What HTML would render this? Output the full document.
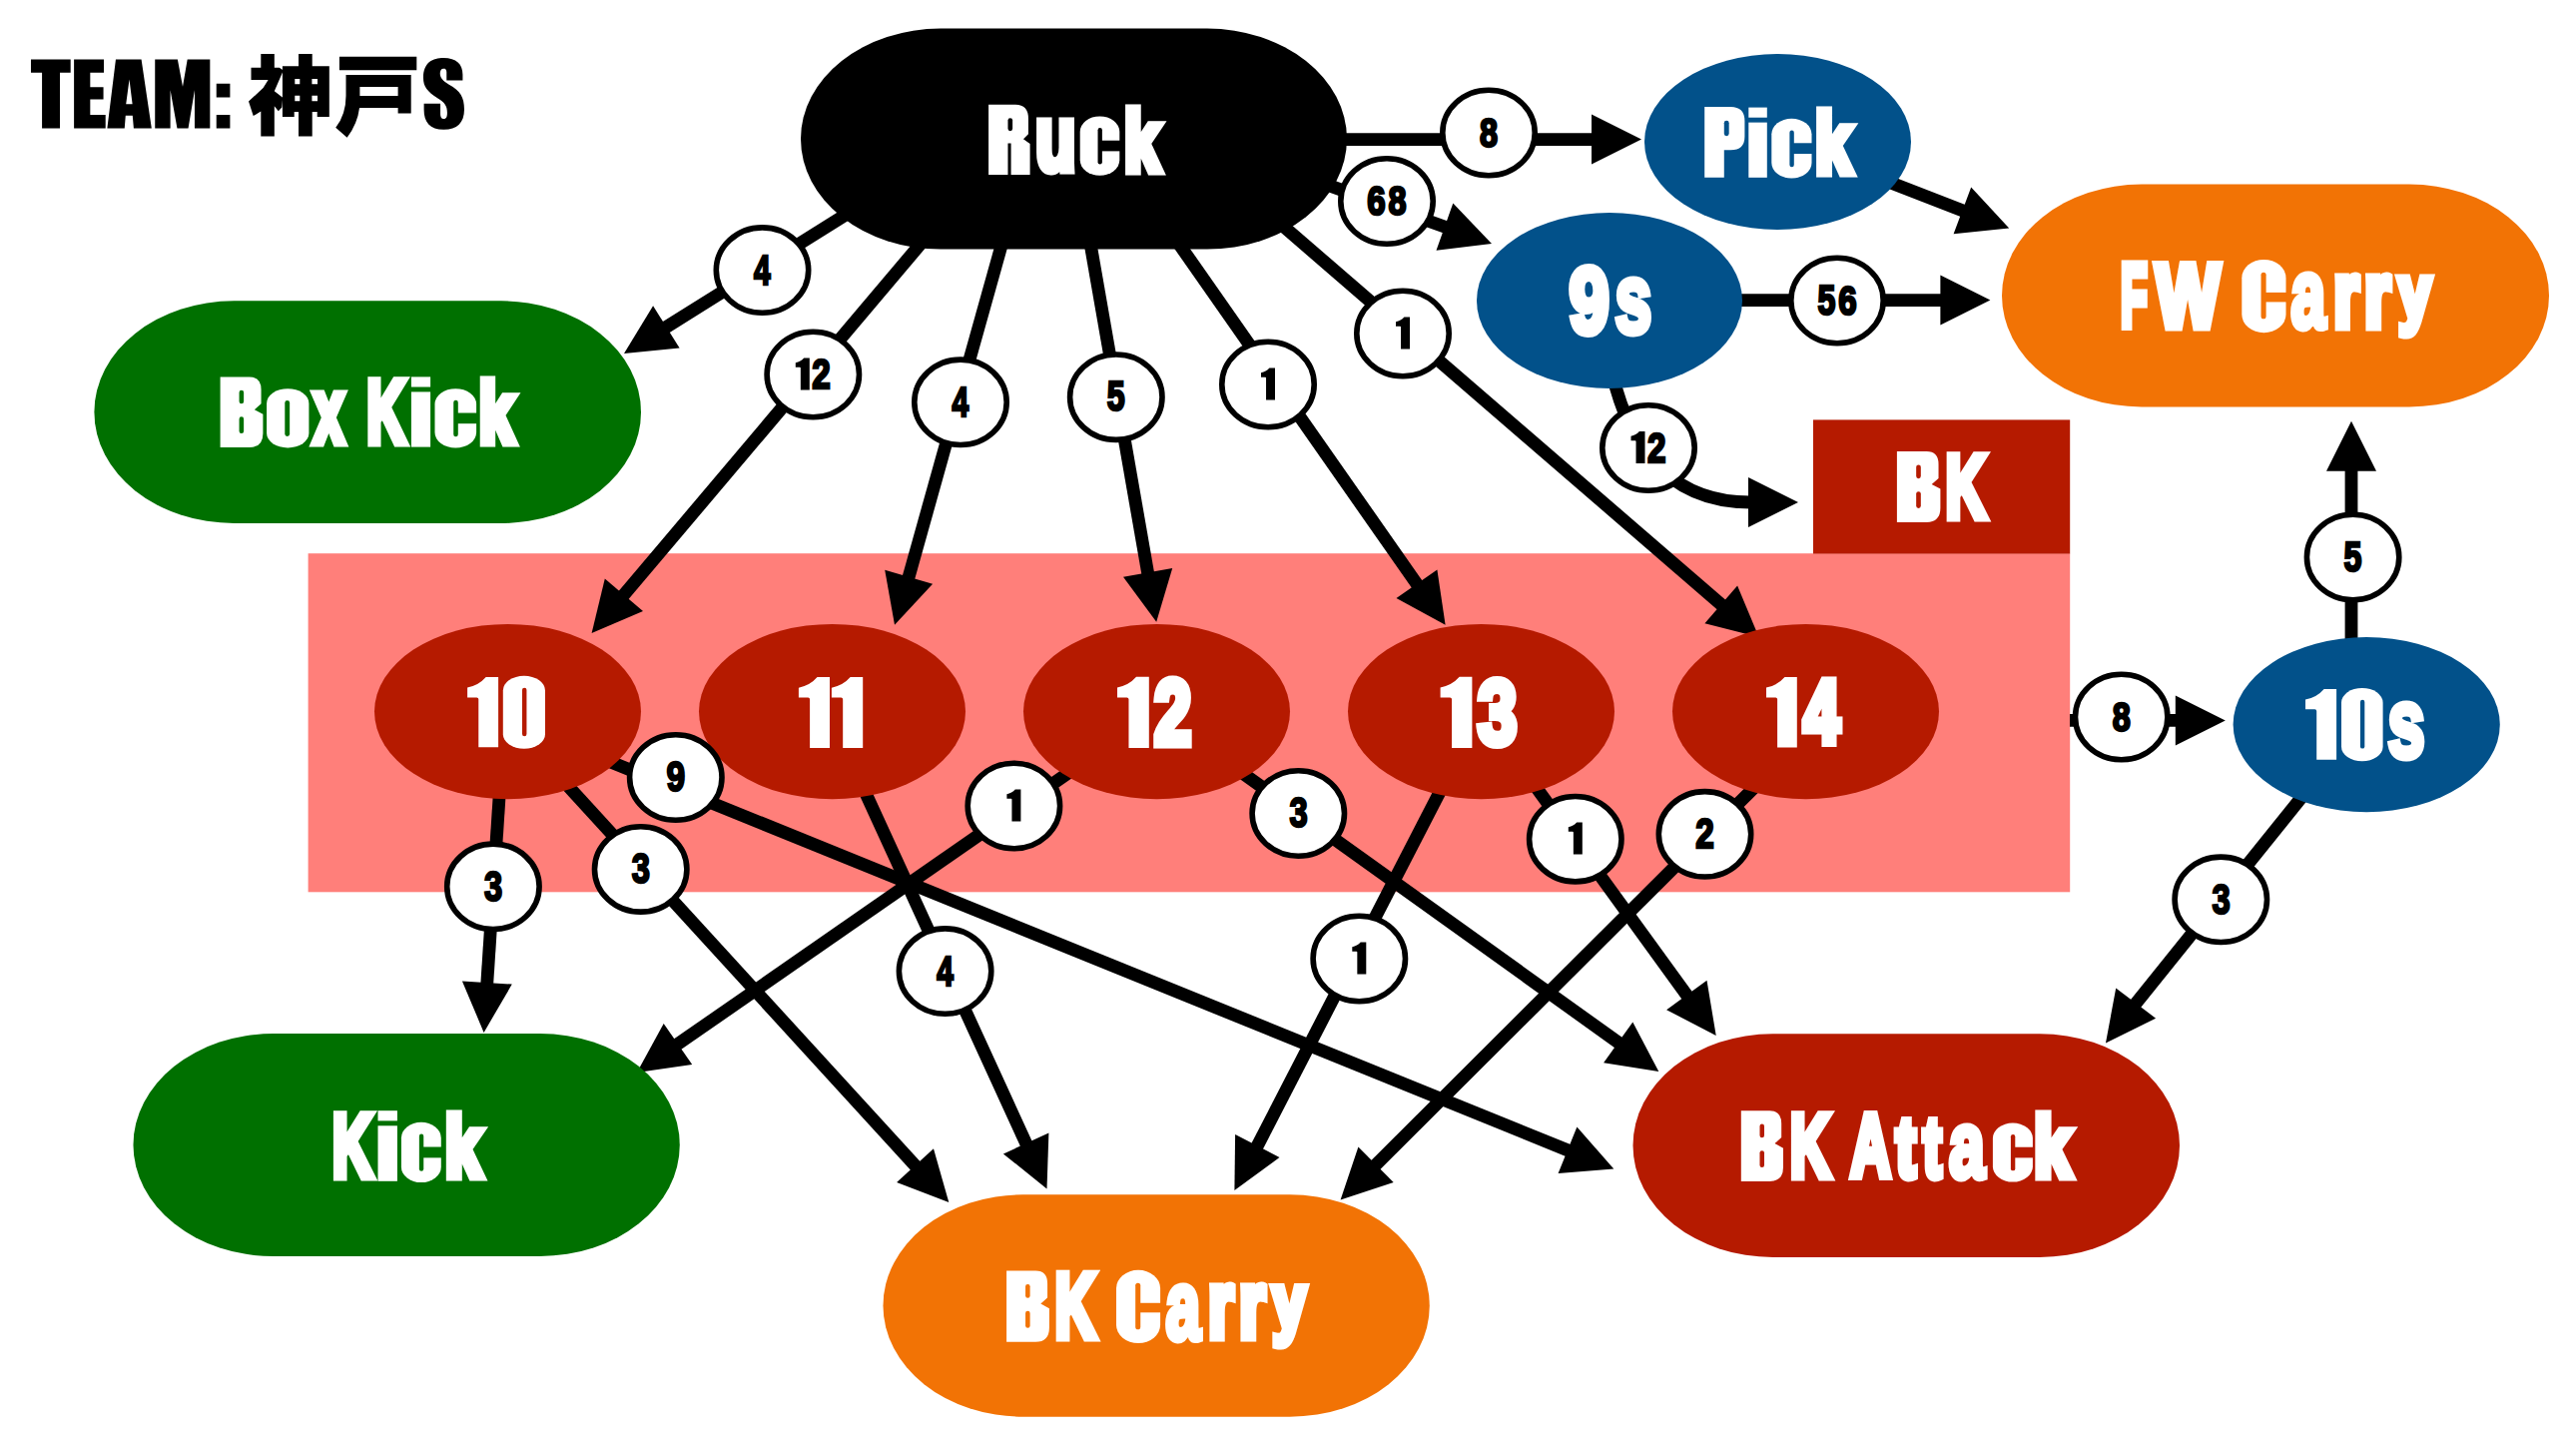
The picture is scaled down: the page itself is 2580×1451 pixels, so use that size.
<!DOCTYPE html><html><head><meta charset="utf-8"><style>html,body{margin:0;padding:0;background:#fff;overflow:hidden}svg{display:block}</style></head><body>
<svg xmlns="http://www.w3.org/2000/svg" width="2580" height="1451" viewBox="0 0 2580 1451">
<rect width="2580" height="1451" fill="#fff"/>
<rect x="308.6" y="554.2" width="1764.6" height="339.1" fill="#ff7f7a"/>
<rect x="1816" y="420.4" width="257.2" height="134.1" fill="#b51a00"/>
<g stroke="#000" stroke-width="12.8" stroke-linecap="butt"><line x1="1300.0" y1="139.6" x2="1596.0" y2="139.6"/><line x1="1300.0" y1="174.6" x2="1448.8" y2="227.8"/><line x1="879.0" y1="195.0" x2="665.7" y2="328.5"/><line x1="953.8" y1="206.6" x2="623.6" y2="597.2"/><line x1="1010.0" y1="220.8" x2="909.6" y2="579.7"/><line x1="1089.4" y1="228.7" x2="1149.9" y2="575.4"/><line x1="1172.6" y1="232.6" x2="1420.1" y2="586.4"/><line x1="1269.5" y1="212.9" x2="1725.3" y2="606.6"/><line x1="1850.0" y1="166.0" x2="1967.3" y2="211.5"/><line x1="1700.0" y1="300.6" x2="1945.4" y2="300.6"/><line x1="2073.0" y1="721.4" x2="2180.8" y2="721.4"/><line x1="2355.0" y1="690.0" x2="2355.0" y2="469.7"/><line x1="2336.0" y1="760.0" x2="2138.0" y2="1006.2"/><line x1="505.7" y1="712.0" x2="487.7" y2="986.0"/><line x1="507.5" y1="720.0" x2="917.9" y2="1168.6"/><line x1="508.0" y1="721.0" x2="1571.8" y2="1152.5"/><line x1="829.3" y1="712.0" x2="1028.5" y2="1146.8"/><line x1="1158.5" y1="712.6" x2="677.3" y2="1046.6"/><line x1="1158.5" y1="712.6" x2="1622.3" y2="1045.0"/><line x1="1483.5" y1="712.6" x2="1258.4" y2="1149.3"/><line x1="1483.5" y1="712.6" x2="1690.5" y2="998.1"/><line x1="1803.7" y1="742.1" x2="1376.6" y2="1167.7"/></g>
<path d="M1615,375 C1628,430 1660,503 1753,503" fill="none" stroke="#000" stroke-width="12.8"/>
<g fill="#000"><polygon points="1644.0,139.6 1594.0,164.6 1594.0,114.6"/><polygon points="1494.0,244.0 1438.5,250.7 1455.3,203.6"/><polygon points="625.0,354.0 654.1,306.3 680.6,348.6"/><polygon points="592.6,633.9 605.8,579.6 644.0,611.9"/><polygon points="896.0,625.7 886.2,570.7 934.1,584.8"/><polygon points="1158.2,622.7 1125.0,577.7 1174.2,569.1"/><polygon points="1447.6,625.7 1398.5,599.1 1439.4,570.4"/><polygon points="1761.6,638.0 1707.4,624.2 1740.1,586.4"/><polygon points="2012.2,228.4 1956.6,234.2 1974.2,187.4"/><polygon points="1993.4,300.6 1943.4,325.6 1943.4,275.6"/><polygon points="2228.8,721.4 2178.8,746.4 2178.8,696.4"/><polygon points="2355.0,421.7 2380.0,471.7 2330.0,471.7"/><polygon points="2109.0,1044.5 2119.2,989.5 2159.1,1019.7"/><polygon points="484.6,1033.9 462.9,982.4 512.8,985.6"/><polygon points="950.3,1204.0 898.1,1184.0 935.0,1150.2"/><polygon points="1616.3,1170.5 1560.6,1174.9 1579.4,1128.5"/><polygon points="1048.5,1190.4 1004.9,1155.4 1050.4,1134.5"/><polygon points="637.9,1074.0 664.7,1025.0 693.2,1066.0"/><polygon points="1661.3,1073.0 1606.1,1064.2 1635.3,1023.6"/><polygon points="1236.4,1192.0 1237.1,1136.1 1281.5,1159.0"/><polygon points="1718.7,1037.0 1669.1,1011.2 1709.5,981.8"/><polygon points="1342.6,1201.6 1360.4,1148.6 1395.7,1184.0"/><polygon points="1801,503 1751,478 1751,528"/></g>
<rect x="802" y="28.6" width="547.0" height="221.0" rx="140" ry="110.5" fill="#000"/>
<ellipse cx="1780.5" cy="142" rx="133.5" ry="88" fill="#02518a"/>
<ellipse cx="1612" cy="301" rx="133" ry="88" fill="#02518a"/>
<rect x="2005" y="184.5" width="548.0" height="223.0" rx="140" ry="111.5" fill="#f27305"/>
<rect x="94.4" y="301.3" width="547.6" height="222.7" rx="140" ry="111.3" fill="#007000"/>
<ellipse cx="508.5" cy="712.6" rx="133.5" ry="87.7" fill="#b51a00"/>
<ellipse cx="833.5" cy="712.6" rx="133.5" ry="87.7" fill="#b51a00"/>
<ellipse cx="1158.5" cy="712.6" rx="133.5" ry="87.7" fill="#b51a00"/>
<ellipse cx="1483.5" cy="712.6" rx="133.5" ry="87.7" fill="#b51a00"/>
<ellipse cx="1808.5" cy="712.6" rx="133.5" ry="87.7" fill="#b51a00"/>
<ellipse cx="2370.2" cy="725.6" rx="133.6" ry="87.6" fill="#02518a"/>
<rect x="133.5" y="1035.1" width="547.3" height="222.9" rx="140" ry="111.5" fill="#007000"/>
<rect x="884.5" y="1196.3" width="547.3" height="222.4" rx="140" ry="111.2" fill="#f27305"/>
<rect x="1635.5" y="1035.3" width="547.5" height="223.6" rx="140" ry="111.8" fill="#b51a00"/>
<ellipse cx="1491" cy="133" rx="46.2" ry="42.7" fill="#fff" stroke="#000" stroke-width="5.6"/><text x="1481.97" y="146.69" font-size="41.52" font-family="Liberation Sans, sans-serif" font-weight="700" fill="#000" stroke="#000" stroke-width="2.6" stroke-linejoin="miter" stroke-miterlimit="3" textLength="18.03" lengthAdjust="spacingAndGlyphs">8</text><ellipse cx="1389" cy="201.5" rx="46.2" ry="42.7" fill="#fff" stroke="#000" stroke-width="5.6"/><text x="1369.29" y="215.19" font-size="41.52" font-family="Liberation Sans, sans-serif" font-weight="700" fill="#000" stroke="#000" stroke-width="2.6" stroke-linejoin="miter" stroke-miterlimit="3" textLength="18.41" lengthAdjust="spacingAndGlyphs">6</text><text x="1390.47" y="215.19" font-size="41.52" font-family="Liberation Sans, sans-serif" font-weight="700" fill="#000" stroke="#000" stroke-width="2.6" stroke-linejoin="miter" stroke-miterlimit="3" textLength="18.03" lengthAdjust="spacingAndGlyphs">8</text><ellipse cx="763.5" cy="270.6" rx="46.2" ry="42.7" fill="#fff" stroke="#000" stroke-width="5.6"/><text x="755.05" y="284.70" font-size="42.73" font-family="Liberation Sans, sans-serif" font-weight="700" fill="#000" stroke="#000" stroke-width="2.6" stroke-linejoin="miter" stroke-miterlimit="3" textLength="16.61" lengthAdjust="spacingAndGlyphs">4</text><ellipse cx="814.3" cy="375" rx="46.2" ry="42.7" fill="#fff" stroke="#000" stroke-width="5.6"/><path d="M796.80,363.17 Q801.91,362.24 805.19,358.40 L810.80,358.40 L810.80,390.40 L801.84,390.40 L801.84,368.48 Q801.84,367.65 801.01,367.65 L796.80,367.65 Z" fill="#000"/><text x="813.35" y="389.10" font-size="42.11" font-family="Liberation Sans, sans-serif" font-weight="700" fill="#000" stroke="#000" stroke-width="2.6" stroke-linejoin="miter" stroke-miterlimit="3" textLength="18.48" lengthAdjust="spacingAndGlyphs">2</text><ellipse cx="962" cy="402.8" rx="46.2" ry="42.7" fill="#fff" stroke="#000" stroke-width="5.6"/><text x="953.55" y="416.90" font-size="42.73" font-family="Liberation Sans, sans-serif" font-weight="700" fill="#000" stroke="#000" stroke-width="2.6" stroke-linejoin="miter" stroke-miterlimit="3" textLength="16.61" lengthAdjust="spacingAndGlyphs">4</text><ellipse cx="1117.8" cy="397.7" rx="46.2" ry="42.7" fill="#fff" stroke="#000" stroke-width="5.6"/><text x="1108.81" y="411.39" font-size="42.14" font-family="Liberation Sans, sans-serif" font-weight="700" fill="#000" stroke="#000" stroke-width="2.6" stroke-linejoin="miter" stroke-miterlimit="3" textLength="17.88" lengthAdjust="spacingAndGlyphs">5</text><ellipse cx="1270" cy="385" rx="46.2" ry="42.7" fill="#fff" stroke="#000" stroke-width="5.6"/><path d="M1263.00,373.17 Q1268.11,372.24 1271.39,368.40 L1277.00,368.40 L1277.00,400.40 L1268.04,400.40 L1268.04,378.48 Q1268.04,377.65 1267.21,377.65 L1263.00,377.65 Z" fill="#000"/><ellipse cx="1405" cy="334" rx="46.2" ry="42.7" fill="#fff" stroke="#000" stroke-width="5.6"/><path d="M1398.00,322.17 Q1403.11,321.24 1406.39,317.40 L1412.00,317.40 L1412.00,349.40 L1403.04,349.40 L1403.04,327.48 Q1403.04,326.65 1402.21,326.65 L1398.00,326.65 Z" fill="#000"/><ellipse cx="1840" cy="301" rx="46.2" ry="42.7" fill="#fff" stroke="#000" stroke-width="5.6"/><text x="1820.51" y="314.69" font-size="42.14" font-family="Liberation Sans, sans-serif" font-weight="700" fill="#000" stroke="#000" stroke-width="2.6" stroke-linejoin="miter" stroke-miterlimit="3" textLength="17.88" lengthAdjust="spacingAndGlyphs">5</text><text x="1841.29" y="314.69" font-size="41.52" font-family="Liberation Sans, sans-serif" font-weight="700" fill="#000" stroke="#000" stroke-width="2.6" stroke-linejoin="miter" stroke-miterlimit="3" textLength="18.41" lengthAdjust="spacingAndGlyphs">6</text><ellipse cx="2124.7" cy="718" rx="46.2" ry="42.7" fill="#fff" stroke="#000" stroke-width="5.6"/><text x="2115.67" y="731.69" font-size="41.52" font-family="Liberation Sans, sans-serif" font-weight="700" fill="#000" stroke="#000" stroke-width="2.6" stroke-linejoin="miter" stroke-miterlimit="3" textLength="18.03" lengthAdjust="spacingAndGlyphs">8</text><ellipse cx="2356.6" cy="558" rx="46.2" ry="42.7" fill="#fff" stroke="#000" stroke-width="5.6"/><text x="2347.61" y="571.69" font-size="42.14" font-family="Liberation Sans, sans-serif" font-weight="700" fill="#000" stroke="#000" stroke-width="2.6" stroke-linejoin="miter" stroke-miterlimit="3" textLength="17.88" lengthAdjust="spacingAndGlyphs">5</text><ellipse cx="2224.3" cy="900.8" rx="46.2" ry="42.7" fill="#fff" stroke="#000" stroke-width="5.6"/><text x="2215.41" y="914.57" font-size="41.84" font-family="Liberation Sans, sans-serif" font-weight="700" fill="#000" stroke="#000" stroke-width="2.314" stroke-linejoin="miter" stroke-miterlimit="3" textLength="18.22" lengthAdjust="spacingAndGlyphs">3</text><ellipse cx="493.9" cy="887.8" rx="46.2" ry="42.7" fill="#fff" stroke="#000" stroke-width="5.6"/><text x="485.01" y="901.57" font-size="41.84" font-family="Liberation Sans, sans-serif" font-weight="700" fill="#000" stroke="#000" stroke-width="2.314" stroke-linejoin="miter" stroke-miterlimit="3" textLength="18.22" lengthAdjust="spacingAndGlyphs">3</text><ellipse cx="641.7" cy="870.4" rx="46.2" ry="42.7" fill="#fff" stroke="#000" stroke-width="5.6"/><text x="632.81" y="884.17" font-size="41.84" font-family="Liberation Sans, sans-serif" font-weight="700" fill="#000" stroke="#000" stroke-width="2.314" stroke-linejoin="miter" stroke-miterlimit="3" textLength="18.22" lengthAdjust="spacingAndGlyphs">3</text><ellipse cx="676.8" cy="778.5" rx="46.2" ry="42.7" fill="#fff" stroke="#000" stroke-width="5.6"/><text x="667.49" y="792.33" font-size="41.93" font-family="Liberation Sans, sans-serif" font-weight="700" fill="#000" stroke="#000" stroke-width="2.314" stroke-linejoin="miter" stroke-miterlimit="3" textLength="18.70" lengthAdjust="spacingAndGlyphs">9</text><ellipse cx="946.6" cy="972.6" rx="46.2" ry="42.7" fill="#fff" stroke="#000" stroke-width="5.6"/><text x="938.15" y="986.70" font-size="42.73" font-family="Liberation Sans, sans-serif" font-weight="700" fill="#000" stroke="#000" stroke-width="2.6" stroke-linejoin="miter" stroke-miterlimit="3" textLength="16.61" lengthAdjust="spacingAndGlyphs">4</text><ellipse cx="1015.4" cy="807" rx="46.2" ry="42.7" fill="#fff" stroke="#000" stroke-width="5.6"/><path d="M1008.40,795.17 Q1013.51,794.24 1016.79,790.40 L1022.40,790.40 L1022.40,822.40 L1013.44,822.40 L1013.44,800.48 Q1013.44,799.65 1012.61,799.65 L1008.40,799.65 Z" fill="#000"/><ellipse cx="1300.3" cy="814.5" rx="46.2" ry="42.7" fill="#fff" stroke="#000" stroke-width="5.6"/><text x="1291.41" y="828.27" font-size="41.84" font-family="Liberation Sans, sans-serif" font-weight="700" fill="#000" stroke="#000" stroke-width="2.314" stroke-linejoin="miter" stroke-miterlimit="3" textLength="18.22" lengthAdjust="spacingAndGlyphs">3</text><ellipse cx="1361.3" cy="960" rx="46.2" ry="42.7" fill="#fff" stroke="#000" stroke-width="5.6"/><path d="M1354.30,948.17 Q1359.41,947.24 1362.69,943.40 L1368.30,943.40 L1368.30,975.40 L1359.34,975.40 L1359.34,953.48 Q1359.34,952.65 1358.51,952.65 L1354.30,952.65 Z" fill="#000"/><ellipse cx="1577.8" cy="840.2" rx="46.2" ry="42.7" fill="#fff" stroke="#000" stroke-width="5.6"/><path d="M1570.80,828.37 Q1575.91,827.44 1579.19,823.60 L1584.80,823.60 L1584.80,855.60 L1575.84,855.60 L1575.84,833.68 Q1575.84,832.85 1575.01,832.85 L1570.80,832.85 Z" fill="#000"/><ellipse cx="1707.5" cy="835.3" rx="46.2" ry="42.7" fill="#fff" stroke="#000" stroke-width="5.6"/><text x="1698.35" y="849.40" font-size="42.11" font-family="Liberation Sans, sans-serif" font-weight="700" fill="#000" stroke="#000" stroke-width="2.6" stroke-linejoin="miter" stroke-miterlimit="3" textLength="18.48" lengthAdjust="spacingAndGlyphs">2</text><ellipse cx="1651" cy="448.5" rx="46.2" ry="42.7" fill="#fff" stroke="#000" stroke-width="5.6"/><path d="M1633.50,436.67 Q1638.61,435.74 1641.89,431.90 L1647.50,431.90 L1647.50,463.90 L1638.54,463.90 L1638.54,441.98 Q1638.54,441.15 1637.71,441.15 L1633.50,441.15 Z" fill="#000"/><text x="1650.05" y="462.60" font-size="42.11" font-family="Liberation Sans, sans-serif" font-weight="700" fill="#000" stroke="#000" stroke-width="2.6" stroke-linejoin="miter" stroke-miterlimit="3" textLength="18.48" lengthAdjust="spacingAndGlyphs">2</text>
<g><path d="M990.10,104.70 L1017.07,104.70 Q1029.94,104.70 1029.94,118.76 L1029.94,134.23 L1024.96,139.15 L1031.60,144.07 L1031.60,175.00 L1012.59,175.00 L1012.59,143.58 L1009.48,143.58 L1009.48,175.00 L990.10,175.00 Z" fill="#fff"/><rect x="1009.48" y="118.27" width="4.65" height="12.86" rx="2.32" ry="2.32" fill="#000"/><text x="1037.13" y="170.31" font-size="91.44" font-family="Liberation Sans, sans-serif" font-weight="700" fill="#fff" stroke="#fff" stroke-width="9.0" stroke-linejoin="miter" stroke-miterlimit="3" textLength="40.10" lengthAdjust="spacingAndGlyphs">u</text><rect x="1081.70" y="116.40" width="39.60" height="59.30" rx="19.80" ry="15.42" fill="#fff"/><rect x="1099.52" y="127.96" width="4.36" height="36.47" rx="2.18" ry="2.18" fill="#000"/><rect x="1101.70" y="140.71" width="20.60" height="10.67" fill="#000"/><text x="1126.02" y="170.50" font-size="84.60" font-family="Liberation Sans, sans-serif" font-weight="700" fill="#fff" stroke="#fff" stroke-width="9.0" stroke-linejoin="miter" stroke-miterlimit="3" textLength="35.72" lengthAdjust="spacingAndGlyphs">k</text></g>
<g><path d="M1707.20,106.90 L1733.33,106.90 Q1747.40,106.90 1747.40,121.08 L1747.40,136.68 Q1747.40,150.22 1733.33,150.22 L1726.78,150.22 L1726.78,177.80 L1707.20,177.80 Z" fill="#fff"/><rect x="1726.78" y="120.87" width="4.90" height="15.39" rx="2.45" ry="2.45" fill="#02518a"/><rect x="1751.30" y="107.60" width="18.50" height="10.11" fill="#fff"/><rect x="1751.30" y="122.62" width="18.50" height="55.18" fill="#fff"/><rect x="1774.30" y="118.80" width="40.20" height="59.70" rx="20.10" ry="15.52" fill="#fff"/><rect x="1792.39" y="130.44" width="4.42" height="36.72" rx="2.21" ry="2.21" fill="#02518a"/><rect x="1794.60" y="143.28" width="20.90" height="10.75" fill="#02518a"/><text x="1817.93" y="173.30" font-size="85.01" font-family="Liberation Sans, sans-serif" font-weight="700" fill="#fff" stroke="#fff" stroke-width="9.0" stroke-linejoin="miter" stroke-miterlimit="3" textLength="36.41" lengthAdjust="spacingAndGlyphs">k</text></g>
<g><text x="1571.73" y="332.69" font-size="92.64" font-family="Liberation Sans, sans-serif" font-weight="700" fill="#fff" stroke="#fff" stroke-width="8.01" stroke-linejoin="miter" stroke-miterlimit="3" textLength="39.72" lengthAdjust="spacingAndGlyphs">9</text><text x="1617.38" y="333.13" font-size="98.26" font-family="Liberation Sans, sans-serif" font-weight="700" fill="#fff" stroke="#fff" stroke-width="7.0200000000000005" stroke-linejoin="miter" stroke-miterlimit="3" textLength="36.82" lengthAdjust="spacingAndGlyphs">s</text></g>
<g><text x="2124.09" y="327.10" font-size="89.25" font-family="Liberation Sans, sans-serif" font-weight="700" fill="#fff" stroke="#fff" stroke-width="9.0" stroke-linejoin="miter" stroke-miterlimit="3" textLength="26.61" lengthAdjust="spacingAndGlyphs">F</text><text x="2159.33" y="327.10" font-size="89.25" font-family="Liberation Sans, sans-serif" font-weight="700" fill="#fff" stroke="#fff" stroke-width="9.0" stroke-linejoin="miter" stroke-miterlimit="3" textLength="63.73" lengthAdjust="spacingAndGlyphs">W</text><rect x="2245.30" y="259.90" width="44.20" height="73.30" rx="22.10" ry="18.33" fill="#fff"/><rect x="2264.53" y="272.73" width="5.08" height="46.55" rx="2.54" ry="2.54" fill="#f27305"/><rect x="2267.07" y="292.88" width="23.43" height="9.53" fill="#f27305"/><text x="2294.48" y="328.44" font-size="97.62" font-family="Liberation Sans, sans-serif" font-weight="700" fill="#fff" stroke="#fff" stroke-width="7.0200000000000005" stroke-linejoin="miter" stroke-miterlimit="3" textLength="34.71" lengthAdjust="spacingAndGlyphs">a</text><text x="2337.20" y="327.10" font-size="93.21" font-family="Liberation Sans, sans-serif" font-weight="700" fill="#fff" stroke="#fff" stroke-width="9.0" stroke-linejoin="miter" stroke-miterlimit="3" textLength="25.39" lengthAdjust="spacingAndGlyphs">r</text><text x="2368.07" y="327.10" font-size="93.21" font-family="Liberation Sans, sans-serif" font-weight="700" fill="#fff" stroke="#fff" stroke-width="9.0" stroke-linejoin="miter" stroke-miterlimit="3" textLength="26.15" lengthAdjust="spacingAndGlyphs">r</text><text x="2402.45" y="318.72" font-size="76.51" font-family="Liberation Sans, sans-serif" font-weight="700" fill="#fff" stroke="#fff" stroke-width="9.0" stroke-linejoin="miter" stroke-miterlimit="3" textLength="31.96" lengthAdjust="spacingAndGlyphs">y</text></g>
<g><path d="M220.60,377.40 L249.70,377.40 Q261.56,377.40 261.56,390.11 L261.56,404.23 L254.84,410.23 L263.40,414.82 L263.40,433.88 Q263.40,448.00 249.70,448.00 L220.60,448.00 Z" fill="#fff"/><rect x="239.56" y="390.74" width="4.58" height="13.63" rx="2.29" ry="2.29" fill="#007000"/><rect x="239.56" y="417.36" width="4.58" height="16.73" rx="2.29" ry="2.29" fill="#007000"/><rect x="267.10" y="389.20" width="42.30" height="59.30" rx="21.15" ry="14.83" fill="#fff"/><rect x="285.29" y="401.06" width="4.86" height="35.94" rx="2.43" ry="2.43" fill="#007000"/><text x="314.13" y="443.10" font-size="91.04" font-family="Liberation Sans, sans-serif" font-weight="700" fill="#fff" stroke="#fff" stroke-width="9.0" stroke-linejoin="miter" stroke-miterlimit="3" textLength="30.27" lengthAdjust="spacingAndGlyphs">x</text><text x="367.43" y="443.10" font-size="88.96" font-family="Liberation Sans, sans-serif" font-weight="700" fill="#fff" stroke="#fff" stroke-width="9.0" stroke-linejoin="miter" stroke-miterlimit="3" textLength="38.57" lengthAdjust="spacingAndGlyphs">K</text><rect x="411.90" y="377.40" width="19.20" height="10.11" fill="#fff"/><rect x="411.90" y="392.42" width="19.20" height="55.18" fill="#fff"/><rect x="435.50" y="389.20" width="41.60" height="59.30" rx="20.80" ry="15.42" fill="#fff"/><rect x="454.22" y="400.76" width="4.58" height="36.47" rx="2.29" ry="2.29" fill="#007000"/><rect x="456.51" y="413.51" width="21.59" height="10.67" fill="#007000"/><text x="479.70" y="443.10" font-size="84.46" font-family="Liberation Sans, sans-serif" font-weight="700" fill="#fff" stroke="#fff" stroke-width="9.0" stroke-linejoin="miter" stroke-miterlimit="3" textLength="35.04" lengthAdjust="spacingAndGlyphs">k</text></g>
<g><path d="M1899.90,452.10 L1929.48,452.10 Q1941.53,452.10 1941.53,464.84 L1941.53,479.00 L1934.70,485.02 L1943.40,489.62 L1943.40,508.74 Q1943.40,522.90 1929.48,522.90 L1899.90,522.90 Z" fill="#fff"/><rect x="1919.17" y="465.48" width="4.65" height="13.66" rx="2.33" ry="2.33" fill="#b51a00"/><rect x="1919.17" y="492.17" width="4.65" height="16.78" rx="2.33" ry="2.33" fill="#b51a00"/><text x="1948.87" y="518.40" font-size="89.83" font-family="Liberation Sans, sans-serif" font-weight="700" fill="#fff" stroke="#fff" stroke-width="9.0" stroke-linejoin="miter" stroke-miterlimit="3" textLength="40.24" lengthAdjust="spacingAndGlyphs">K</text></g>
<g><path d="M468.10,688.56 Q479.41,686.52 486.69,678.10 L499.10,678.10 L499.10,748.30 L479.27,748.30 L479.27,700.21 Q479.27,698.39 477.43,698.39 L468.10,698.39 Z" fill="#fff"/><rect x="503.80" y="676.80" width="42.20" height="73.00" rx="21.10" ry="14.60" fill="#fff"/><rect x="523.00" y="688.63" width="4.43" height="48.54" rx="2.22" ry="2.22" fill="#b51a00"/></g>
<g><path d="M799.90,688.65 Q811.25,686.60 818.55,678.10 L831.00,678.10 L831.00,748.90 L811.10,748.90 L811.10,700.40 Q811.10,698.56 809.26,698.56 L799.90,698.56 Z" fill="#fff"/><path d="M832.90,688.65 Q844.32,686.60 851.67,678.10 L864.20,678.10 L864.20,748.90 L844.18,748.90 L844.18,700.40 Q844.18,698.56 842.32,698.56 L832.90,698.56 Z" fill="#fff"/></g>
<g><path d="M1119.00,688.42 Q1130.60,686.36 1138.07,677.80 L1150.80,677.80 L1150.80,749.10 L1130.46,749.10 L1130.46,700.26 Q1130.46,698.41 1128.57,698.41 L1119.00,698.41 Z" fill="#fff"/><text x="1156.21" y="744.60" font-size="89.94" font-family="Liberation Sans, sans-serif" font-weight="700" fill="#fff" stroke="#fff" stroke-width="9.0" stroke-linejoin="miter" stroke-miterlimit="3" textLength="36.73" lengthAdjust="spacingAndGlyphs">2</text></g>
<g><path d="M1442.60,688.42 Q1454.20,686.36 1461.67,677.80 L1474.40,677.80 L1474.40,749.10 L1454.06,749.10 L1454.06,700.26 Q1454.06,698.41 1452.17,698.41 L1442.60,698.41 Z" fill="#fff"/><text x="1480.08" y="744.77" font-size="90.90" font-family="Liberation Sans, sans-serif" font-weight="700" fill="#fff" stroke="#fff" stroke-width="8.01" stroke-linejoin="miter" stroke-miterlimit="3" textLength="39.37" lengthAdjust="spacingAndGlyphs">3</text></g>
<g><path d="M1769.00,688.60 Q1780.24,686.56 1787.47,678.10 L1799.80,678.10 L1799.80,748.60 L1780.10,748.60 L1780.10,700.31 Q1780.10,698.47 1778.27,698.47 L1769.00,698.47 Z" fill="#fff"/><text x="1806.42" y="744.10" font-size="89.39" font-family="Liberation Sans, sans-serif" font-weight="700" fill="#fff" stroke="#fff" stroke-width="9.0" stroke-linejoin="miter" stroke-miterlimit="3" textLength="36.03" lengthAdjust="spacingAndGlyphs">4</text></g>
<g><path d="M2309.00,700.45 Q2320.35,698.40 2327.65,689.90 L2340.10,689.90 L2340.10,760.70 L2320.20,760.70 L2320.20,712.20 Q2320.20,710.36 2318.36,710.36 L2309.00,710.36 Z" fill="#fff"/><rect x="2345.00" y="689.00" width="41.60" height="73.30" rx="20.80" ry="14.66" fill="#fff"/><rect x="2363.93" y="700.87" width="4.37" height="48.74" rx="2.18" ry="2.18" fill="#02518a"/><text x="2391.56" y="757.54" font-size="97.71" font-family="Liberation Sans, sans-serif" font-weight="700" fill="#fff" stroke="#fff" stroke-width="7.0200000000000005" stroke-linejoin="miter" stroke-miterlimit="3" textLength="37.17" lengthAdjust="spacingAndGlyphs">s</text></g>
<g><text x="333.09" y="1178.30" font-size="89.54" font-family="Liberation Sans, sans-serif" font-weight="700" fill="#fff" stroke="#fff" stroke-width="9.0" stroke-linejoin="miter" stroke-miterlimit="3" textLength="40.02" lengthAdjust="spacingAndGlyphs">K</text><rect x="378.50" y="1112.20" width="19.40" height="10.17" fill="#fff"/><rect x="378.50" y="1127.31" width="19.40" height="55.49" fill="#fff"/><rect x="401.90" y="1123.80" width="39.90" height="60.30" rx="19.95" ry="15.68" fill="#fff"/><rect x="419.86" y="1135.56" width="4.39" height="37.08" rx="2.19" ry="2.19" fill="#007000"/><rect x="422.05" y="1148.52" width="20.75" height="10.85" fill="#007000"/><text x="445.73" y="1178.30" font-size="85.01" font-family="Liberation Sans, sans-serif" font-weight="700" fill="#fff" stroke="#fff" stroke-width="9.0" stroke-linejoin="miter" stroke-miterlimit="3" textLength="36.41" lengthAdjust="spacingAndGlyphs">k</text></g>
<g><path d="M1008.10,1272.40 L1037.20,1272.40 Q1049.06,1272.40 1049.06,1285.25 L1049.06,1299.53 L1042.34,1305.60 L1050.90,1310.24 L1050.90,1329.52 Q1050.90,1343.80 1037.20,1343.80 L1008.10,1343.80 Z" fill="#fff"/><rect x="1027.06" y="1285.89" width="4.58" height="13.78" rx="2.29" ry="2.29" fill="#f27305"/><rect x="1027.06" y="1312.81" width="4.58" height="16.92" rx="2.29" ry="2.29" fill="#f27305"/><text x="1056.64" y="1339.30" font-size="90.70" font-family="Liberation Sans, sans-serif" font-weight="700" fill="#fff" stroke="#fff" stroke-width="9.0" stroke-linejoin="miter" stroke-miterlimit="3" textLength="40.58" lengthAdjust="spacingAndGlyphs">K</text><rect x="1118.00" y="1271.80" width="44.10" height="73.30" rx="22.05" ry="18.32" fill="#fff"/><rect x="1137.18" y="1284.63" width="5.07" height="46.55" rx="2.54" ry="2.54" fill="#f27305"/><rect x="1139.72" y="1304.78" width="23.38" height="9.53" fill="#f27305"/><text x="1167.48" y="1340.63" font-size="98.35" font-family="Liberation Sans, sans-serif" font-weight="700" fill="#fff" stroke="#fff" stroke-width="7.0200000000000005" stroke-linejoin="miter" stroke-miterlimit="3" textLength="34.82" lengthAdjust="spacingAndGlyphs">a</text><text x="1210.08" y="1339.30" font-size="93.95" font-family="Liberation Sans, sans-serif" font-weight="700" fill="#fff" stroke="#fff" stroke-width="9.0" stroke-linejoin="miter" stroke-miterlimit="3" textLength="25.51" lengthAdjust="spacingAndGlyphs">r</text><text x="1241.05" y="1339.30" font-size="93.95" font-family="Liberation Sans, sans-serif" font-weight="700" fill="#fff" stroke="#fff" stroke-width="9.0" stroke-linejoin="miter" stroke-miterlimit="3" textLength="26.27" lengthAdjust="spacingAndGlyphs">r</text><text x="1274.84" y="1330.78" font-size="77.19" font-family="Liberation Sans, sans-serif" font-weight="700" fill="#fff" stroke="#fff" stroke-width="9.0" stroke-linejoin="miter" stroke-miterlimit="3" textLength="32.78" lengthAdjust="spacingAndGlyphs">y</text></g>
<g><path d="M1743.80,1112.20 L1772.50,1112.20 Q1784.19,1112.20 1784.19,1124.93 L1784.19,1139.07 L1777.56,1145.08 L1786.00,1149.67 L1786.00,1168.76 Q1786.00,1182.90 1772.50,1182.90 L1743.80,1182.90 Z" fill="#fff"/><rect x="1762.49" y="1125.56" width="4.52" height="13.65" rx="2.26" ry="2.26" fill="#b51a00"/><rect x="1762.49" y="1152.22" width="4.52" height="16.76" rx="2.26" ry="2.26" fill="#b51a00"/><text x="1792.89" y="1178.40" font-size="89.68" font-family="Liberation Sans, sans-serif" font-weight="700" fill="#fff" stroke="#fff" stroke-width="9.0" stroke-linejoin="miter" stroke-miterlimit="3" textLength="40.02" lengthAdjust="spacingAndGlyphs">K</text><text x="1853.62" y="1178.40" font-size="89.68" font-family="Liberation Sans, sans-serif" font-weight="700" fill="#fff" stroke="#fff" stroke-width="9.0" stroke-linejoin="miter" stroke-miterlimit="3" textLength="40.04" lengthAdjust="spacingAndGlyphs">A</text><text x="1899.08" y="1177.64" font-size="86.06" font-family="Liberation Sans, sans-serif" font-weight="700" fill="#fff" stroke="#fff" stroke-width="9.0" stroke-linejoin="miter" stroke-miterlimit="3" textLength="19.64" lengthAdjust="spacingAndGlyphs">t</text><text x="1926.34" y="1177.64" font-size="86.06" font-family="Liberation Sans, sans-serif" font-weight="700" fill="#fff" stroke="#fff" stroke-width="9.0" stroke-linejoin="miter" stroke-miterlimit="3" textLength="18.13" lengthAdjust="spacingAndGlyphs">t</text><text x="1952.02" y="1179.16" font-size="95.06" font-family="Liberation Sans, sans-serif" font-weight="700" fill="#fff" stroke="#fff" stroke-width="7.0200000000000005" stroke-linejoin="miter" stroke-miterlimit="3" textLength="35.86" lengthAdjust="spacingAndGlyphs">a</text><rect x="1995.90" y="1124.50" width="40.00" height="59.10" rx="20.00" ry="15.37" fill="#fff"/><rect x="2013.90" y="1136.02" width="4.40" height="36.35" rx="2.20" ry="2.20" fill="#b51a00"/><rect x="2016.10" y="1148.73" width="20.80" height="10.64" fill="#b51a00"/><text x="2037.16" y="1178.40" font-size="85.15" font-family="Liberation Sans, sans-serif" font-weight="700" fill="#fff" stroke="#fff" stroke-width="9.0" stroke-linejoin="miter" stroke-miterlimit="3" textLength="36.98" lengthAdjust="spacingAndGlyphs">k</text></g>
<g><path fill="#000" d="M30.98,59.39 L70.69,59.39 L70.69,72.63 L60.02,72.63 L60.02,128.57 L42.08,128.57 L42.08,72.63 L30.98,72.63 Z"/><path fill="#000" d="M74.11,59.39 L104.00,59.39 L104.00,72.63 L90.33,72.63 L90.33,87.15 L103.57,87.15 L103.57,99.53 L90.33,99.53 L90.33,114.91 L105.71,114.91 L105.71,128.57 L74.11,128.57 Z"/><path fill="#000" fill-rule="evenodd" d="M115.96,59.39 L141.58,59.39 L151.82,128.57 L133.89,128.57 L132.78,115.76 L125.78,115.76 L124.75,128.57 L107.41,128.57 Z M126.20,104.23 L132.61,104.23 L129.53,79.46 Z"/><path fill="#000" d="M155.24,59.39 L177.87,59.39 L183.00,86.72 L187.69,59.39 L210.33,59.39 L210.33,128.57 L194.95,128.57 L194.95,90.14 L188.55,128.57 L177.45,128.57 L170.61,90.14 L170.61,128.57 L155.24,128.57 Z"/><path fill="#000" d="M216.73,83.73 L230.40,83.73 L230.40,97.40 L216.73,97.40 Z M216.73,114.91 L230.40,114.91 L230.40,128.57 L216.73,128.57 Z"/><path fill="#000" d="M423.97,77.95 C423.97,62.42 433.60,58.07 444.16,58.07 C457.20,58.07 463.41,64.29 463.41,74.84 L463.41,80.43 L447.27,80.43 L447.27,72.36 C447.27,69.25 446.02,68.63 444.16,68.63 C441.99,68.63 440.74,70.50 440.74,73.60 C440.74,77.95 443.54,81.06 449.75,84.78 C460.93,90.99 464.97,97.20 464.97,109.63 C464.97,122.67 457.82,129.81 444.47,129.81 C430.50,129.81 424.60,122.05 424.60,109.63 L424.60,103.73 L441.06,103.73 L441.06,113.97 C441.06,117.70 442.61,118.94 444.47,118.94 C446.64,118.94 447.89,117.70 447.89,112.73 C447.89,105.90 445.40,102.79 438.57,98.45 C428.01,91.61 423.97,86.64 423.97,77.95 Z"/></g>
<g fill="#000"><polygon points="251.5,67.7 261.3,67.7 261.3,54.0 274.8,54.0 274.8,67.7 279.8,67.7 283.8,70.5 274.8,91.3 283.2,97.8 282.3,107.5 278.8,111.2 274.8,106.2 274.8,136.6 261.3,136.6 261.3,111.5 253.7,116.1 249.0,101.6 263.6,87.9 268.6,80.1 251.5,80.1"/><path fill-rule="evenodd" d="M282.9,66.3 L329.8,66.3 L329.8,117.1 L317.7,117.1 L317.7,112.1 L312.7,112.1 L312.7,136.6 L299.0,136.6 L299.0,112.1 L294.7,112.1 L294.7,117.1 L282.9,117.1 Z M295.3,78.9 L295.3,84.2 L300.3,84.2 L300.3,78.9 Z M312.4,78.9 L312.4,84.2 L318.0,84.2 L318.0,78.9 Z M295.3,95.7 L295.3,101.2 L300.3,101.2 L300.3,95.7 Z M312.4,95.7 L312.4,101.2 L318.0,101.2 L318.0,95.7 Z M299.0,54.0 L312.7,54.0 L312.7,66.3 L299.0,66.3 Z"/><path fill-rule="evenodd" d="M339.9,56.8 L417.3,56.8 L417.3,70.3 L339.9,70.3 Z M346.5,74.9 L411.7,74.9 L411.7,113.6 L398.6,113.6 L398.6,108.0 L360.0,108.0 Q358.1,123.9 347.6,137.8 L336.2,127.8 Q346.5,114.5 346.5,95.9 Z M360.4,87.1 L398.6,87.1 L398.6,95.9 L360.4,95.9 Z"/></g>
</svg></body></html>
